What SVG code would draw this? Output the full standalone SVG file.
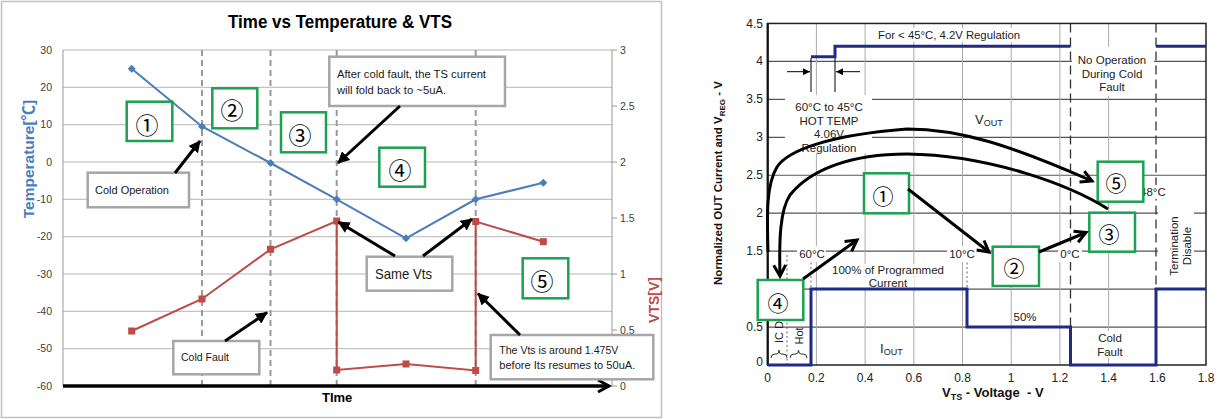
<svg xmlns="http://www.w3.org/2000/svg" width="1230" height="419" viewBox="0 0 1230 419">
<defs>
<style>
.t{font-family:"Liberation Sans",Arial,sans-serif}
.num{font-family:"Noto Sans CJK JP","DejaVu Sans",sans-serif;text-anchor:middle;fill:#000}
.gbox{fill:#fff;stroke:#1ba150;stroke-width:2.5}
.cbox{fill:#fff;stroke:#a6a6a6;stroke-width:2.5}
.lg{stroke:#b5b5b5;stroke-width:1}
.vd{stroke:#9a9a9a;stroke-width:2;stroke-dasharray:6,4}
.tl{font-family:"Liberation Sans",Arial,sans-serif;font-size:10.5px;fill:#404040}
.ct{font-family:"Liberation Sans",Arial,sans-serif;font-size:11.5px;fill:#1a1a1a}
.arrL{stroke:#000;stroke-width:3;fill:none;marker-end:url(#fa)}
.arrR{stroke:#000;stroke-width:3;fill:none;marker-end:url(#ch)}
.rh{stroke:#555;stroke-width:1.2}
.rv{stroke:#aaa;stroke-width:1}
.rt{font-family:"Liberation Sans",Arial,sans-serif;font-size:11.5px;fill:#222}
.rk{font-family:"Liberation Sans",Arial,sans-serif;font-size:12px;fill:#222}
.wb{fill:#fff}
.blue{fill:none;stroke:#4a7ebb;stroke-width:2}
.red{fill:none;stroke:#be4b48;stroke-width:2}
.navy{fill:none;stroke:#1f2b85;stroke-width:3}
.dot{stroke:#666;stroke-width:1;stroke-dasharray:2,2.5}
.dash{stroke:#333;stroke-width:1.3;stroke-dasharray:9,5}
</style>
<marker id="fa" viewBox="0 0 12 12" refX="11" refY="6" markerWidth="12" markerHeight="12" markerUnits="userSpaceOnUse" orient="auto"><path d="M0,0 L12,6 L0,12 z" fill="#000"/></marker>
<marker id="ch" viewBox="0 0 20 16" refX="14" refY="8" markerWidth="20" markerHeight="16" markerUnits="userSpaceOnUse" orient="auto"><path d="M3,2 L14,8 L3,14" fill="none" stroke="#000" stroke-width="3"/></marker>
<marker id="sm" viewBox="0 0 8 8" refX="8" refY="4" markerWidth="8" markerHeight="7" markerUnits="userSpaceOnUse" orient="auto"><path d="M0,0 L8,4 L0,8 z" fill="#000"/></marker>
<path id="dia" d="M0,-4 L4,0 L0,4 L-4,0 Z" fill="#4a7ebb"/>
<rect id="sq" x="-3.5" y="-3.5" width="7" height="7" fill="#be4b48"/>
</defs>

<!-- ================= LEFT CHART ================= -->
<g id="left-chart">
<rect x="1.5" y="1.5" width="660" height="416" fill="#fff" stroke="#c0c0c0" stroke-width="1.5"/>
<text class="t" x="340" y="28" text-anchor="middle" font-size="18" font-weight="bold" textLength="224" lengthAdjust="spacingAndGlyphs">Time vs Temperature &amp; VTS</text>
<g id="left-grid">
<line class="lg" x1="63" y1="50" x2="612" y2="50"/>
<line class="lg" x1="63" y1="87.3" x2="612" y2="87.3"/>
<line class="lg" x1="63" y1="124.7" x2="612" y2="124.7"/>
<line class="lg" x1="63" y1="162" x2="612" y2="162"/>
<line class="lg" x1="63" y1="199.3" x2="612" y2="199.3"/>
<line class="lg" x1="63" y1="236.7" x2="612" y2="236.7"/>
<line class="lg" x1="63" y1="274" x2="612" y2="274"/>
<line class="lg" x1="63" y1="311.3" x2="612" y2="311.3"/>
<line class="lg" x1="63" y1="348.7" x2="612" y2="348.7"/>
<line x1="63" y1="50" x2="63" y2="386" stroke="#999" stroke-width="1"/>
<line x1="612" y1="50" x2="612" y2="386" stroke="#999" stroke-width="1"/>
<path d="M612,50h5M612,106h5M612,162h5M612,218h5M612,274h5M612,330h5M612,386h5" stroke="#999" stroke-width="1"/>
<line class="vd" x1="202" y1="50" x2="202" y2="386"/>
<line class="vd" x1="270.5" y1="50" x2="270.5" y2="386"/>
<line class="vd" x1="336.7" y1="50" x2="336.7" y2="386"/>
<line class="vd" x1="475.7" y1="50" x2="475.7" y2="386"/>
</g>
<g id="left-ticks">
<g class="tl" text-anchor="end">
<text x="52" y="53.5">30</text><text x="52" y="90.8">20</text><text x="52" y="128.2">10</text><text x="52" y="165.5">0</text>
<text x="52" y="202.8">-10</text><text x="52" y="240.2">-20</text><text x="52" y="277.5">-30</text><text x="52" y="314.8">-40</text>
<text x="52" y="352.2">-50</text><text x="52" y="389.5">-60</text>
</g>
<g class="tl">
<text x="620" y="53.5">3</text><text x="620" y="109.5">2.5</text><text x="620" y="165.5">2</text><text x="620" y="221.5">1.5</text>
<text x="620" y="277.5">1</text><text x="620" y="333.5">0.5</text><text x="620" y="389.5">0</text>
</g>
</g>
<g id="series">
<polyline class="blue" points="131.7,68.7 202,126.5 270.5,163 336.7,199.3 406,238.3 475.7,199.3 543.3,182.7"/>
<polyline class="red" points="131.7,331 202,299 270.5,249.3 336.7,221 336.7,370 406,364 475.7,370.5 475.7,221.5 543.3,241.7"/>
<use href="#dia" x="131.7" y="68.7"/><use href="#dia" x="202" y="126.5"/><use href="#dia" x="270.5" y="163"/><use href="#dia" x="336.7" y="199.3"/>
<use href="#dia" x="406" y="238.3"/><use href="#dia" x="475.7" y="199.3"/><use href="#dia" x="543.3" y="182.7"/>
<use href="#sq" x="131.7" y="331"/><use href="#sq" x="202" y="299"/><use href="#sq" x="270.5" y="249.3"/><use href="#sq" x="336.7" y="221"/>
<use href="#sq" x="336.7" y="370"/><use href="#sq" x="406" y="364"/><use href="#sq" x="475.7" y="370.5"/><use href="#sq" x="475.7" y="221.5"/><use href="#sq" x="543.3" y="241.7"/>
</g>
<line x1="63" y1="386" x2="609" y2="386" stroke="#000" stroke-width="3.5" marker-end="url(#ch)"/>
<text class="t" transform="translate(34,159) rotate(-90)" text-anchor="middle" font-size="15.5" font-weight="bold" fill="#4a7ebb">Temperature[<tspan font-family="Noto Sans CJK SC,sans-serif">℃</tspan>]</text>
<text class="t" transform="translate(659,300) rotate(-90)" text-anchor="middle" font-size="14" font-weight="bold" fill="#be4b48">VTS[V]</text>
<text class="t" x="322" y="402" font-size="13" font-weight="bold" fill="#000">TIme</text>
</g>

<g id="L1"><rect class="gbox" x="126.7" y="101.7" width="45.6" height="39.3"/><text class="num" x="147" y="133.5" font-size="23">①</text></g>
<g id="L2"><rect class="gbox" x="212.3" y="88.3" width="45" height="40"/><text class="num" x="232" y="118.5" font-size="23">②</text></g>
<g id="L3"><rect class="gbox" x="281" y="112.3" width="45" height="40"/><text class="num" x="300" y="143.5" font-size="23">③</text></g>
<g id="L4"><rect class="gbox" x="379.3" y="147.7" width="45.7" height="39"/><text class="num" x="400" y="178.5" font-size="23">④</text></g>
<g id="L5"><rect class="gbox" x="522.7" y="258.3" width="45.6" height="40"/><text class="num" x="542" y="289.5" font-size="23">⑤</text></g>

<g id="C-cold-operation"><rect class="cbox" x="87.7" y="172.7" width="101.3" height="34.6"/><text class="ct" x="95" y="194" textLength="74" lengthAdjust="spacingAndGlyphs">Cold Operation</text></g>
<g id="C-cold-fault"><rect class="cbox" x="173.3" y="341" width="86" height="33.3"/><text class="ct" x="181" y="361" textLength="48" lengthAdjust="spacingAndGlyphs">Cold Fault</text></g>
<g id="C-after-fault"><rect class="cbox" x="329.3" y="56.7" width="175.7" height="49.3"/><text class="ct" x="337" y="77.5" textLength="149" lengthAdjust="spacingAndGlyphs">After cold fault, the TS current</text><text class="ct" x="337" y="93.5" textLength="109" lengthAdjust="spacingAndGlyphs">will fold back to ~5uA.</text></g>
<g id="C-same-vts"><rect class="cbox" x="366.7" y="256.7" width="85.6" height="34"/><text class="t" x="375" y="279" font-size="15" fill="#1a1a1a" textLength="57" lengthAdjust="spacingAndGlyphs">Same Vts</text></g>
<g id="C-vts-around"><rect class="cbox" x="490.7" y="335" width="162.6" height="44.3"/><text class="ct" x="499.3" y="353.5" textLength="119" lengthAdjust="spacingAndGlyphs">The Vts is around 1.475V</text><text class="ct" x="499.3" y="368.5" textLength="136" lengthAdjust="spacingAndGlyphs">before Its resumes to 50uA.</text></g>

<!-- ================= RIGHT CHART ================= -->
<g id="right-chart">
<g id="right-grid">
<path class="rh" d="M767.7,327.05H1206M767.7,289.1H1206M767.7,251.15H1206M767.7,213.2H1206M767.7,175.25H1206M767.7,137.3H1206M767.7,99.35H1206M767.7,61.4H1206"/>
<path class="rv" d="M816.4,23.5V365M865.1,23.5V365M913.8,23.5V365M962.5,23.5V365M1011.2,23.5V365M1059.9,23.5V365M1108.6,23.5V365"/>
<rect x="767.7" y="23.45" width="438.3" height="341.55" fill="none" stroke="#222" stroke-width="1.5"/>
<line x1="767.7" y1="23" x2="767.7" y2="365.5" stroke="#111" stroke-width="2.2"/>
</g>
<line class="dash" x1="1070.5" y1="23.5" x2="1070.5" y2="365"/>
<line class="dash" x1="1156" y1="23.5" x2="1156" y2="365"/>
<line class="dot" x1="787" y1="255" x2="787" y2="365"/>
<line class="dot" x1="811" y1="258" x2="811" y2="289"/>
<line class="dot" x1="967" y1="258" x2="967" y2="289"/>
<g id="label-bg">
<rect class="wb" x="875" y="28" width="147" height="14"/>
<rect class="wb" x="785" y="95" width="87" height="58"/>
<rect class="wb" x="1072" y="47" width="82" height="49"/>
<rect class="wb" x="797" y="246" width="29" height="16"/>
<rect class="wb" x="947" y="246" width="31" height="16"/>
<rect class="wb" x="1058" y="246" width="24" height="16"/>
<rect class="wb" x="1139" y="185" width="27" height="14"/>
<rect class="wb" x="832" y="264" width="112" height="12"/>
<rect class="wb" x="862" y="277" width="52" height="11"/>
<rect class="wb" x="1090" y="331" width="40" height="27"/>
<rect class="wb" x="1158" y="212" width="36" height="68"/>
</g>
<polyline class="navy" points="811,56.8 835,56.8 835,46.2 1070.5,46.2"/>
<polyline class="navy" points="1156,46.2 1206,46.2"/>
<polyline class="navy" points="767.7,365 811,365 811,289.1 967,289.1 967,327 1070.5,327 1070.5,365 1156,365 1156,289.1 1206,289.1"/>
<path d="M811,58V92M835,58V92" stroke="#000" stroke-width="1"/>
<line x1="787" y1="71.7" x2="810" y2="71.7" stroke="#000" stroke-width="1" marker-end="url(#sm)"/>
<line x1="860" y1="71.7" x2="836" y2="71.7" stroke="#000" stroke-width="1" marker-end="url(#sm)"/>
<g id="right-ticks" class="rk">
<g text-anchor="end">
<text x="763" y="27.5">4.5</text><text x="763" y="65.4">4</text><text x="763" y="103.4">3.5</text><text x="763" y="141.3">3</text>
<text x="763" y="179.3">2.5</text><text x="763" y="217.2">2</text><text x="763" y="255.2">1.5</text><text x="763" y="293.1">1</text>
<text x="763" y="331.1">0.5</text><text x="763" y="366">0</text>
</g>
<g text-anchor="middle">
<text x="767.7" y="382">0</text><text x="816.4" y="382">0.2</text><text x="865.1" y="382">0.4</text><text x="913.8" y="382">0.6</text>
<text x="962.5" y="382">0.8</text><text x="1011.2" y="382">1</text><text x="1059.9" y="382">1.2</text><text x="1108.6" y="382">1.4</text>
<text x="1157.3" y="382">1.6</text><text x="1206" y="382">1.8</text>
</g>
</g>
<g id="right-labels" class="rt">
<text x="878" y="39" textLength="142" lengthAdjust="spacingAndGlyphs">For &lt; 45°C, 4.2V Regulation</text>
<g text-anchor="middle">
<text x="829" y="111">60°C to 45°C</text>
<text x="829" y="124.5">HOT TEMP</text>
<text x="829" y="138">4.06V</text>
<text x="829" y="151.5">Regulation</text>
<text x="1112" y="64">No Operation</text>
<text x="1112" y="77.5">During Cold</text>
<text x="1112" y="91">Fault</text>
<text x="812" y="258">60°C</text>
<text x="962" y="258">10°C</text>
<text x="1070" y="258">0°C</text>
<text x="888" y="274">100% of Programmed</text>
<text x="888" y="286.5">Current</text>
<text x="1025" y="321">50%</text>
<text x="1110" y="342">Cold</text>
<text x="1110" y="355.5">Fault</text>
<text transform="translate(1178,246) rotate(-90)">Termination</text>
<text transform="translate(1191,246) rotate(-90)">Disable</text>
</g>
<text x="1140" y="196">48°C</text>
<text x="975" y="124" font-size="13">V<tspan font-size="9" dy="2">OUT</tspan></text>
<text x="880" y="353" font-size="13">I<tspan font-size="9" dy="2">OUT</tspan></text>
<text transform="translate(783,332) rotate(-90)" text-anchor="middle" font-size="11">IC D</text>
<text transform="translate(803,336) rotate(-90)" text-anchor="middle" font-size="11">Hot</text>
<path d="M771,358 Q771,354 775,354 L777,354 Q779,354 779,350 Q779,354 781,354 L783,354 Q787,354 787,358" fill="none" stroke="#333" stroke-width="1"/>
<path d="M790,358 Q790,354 794,354 L796,354 Q798.5,354 798.5,350 Q798.5,354 801,354 L803,354 Q807,354 807,358" fill="none" stroke="#333" stroke-width="1"/>
</g>
<text class="t" transform="translate(722,183) rotate(-90)" text-anchor="middle" font-size="11.5" font-weight="bold" fill="#111">Normalized OUT Current and V<tspan font-size="8" dy="3">REG</tspan><tspan dy="-3"> - V</tspan></text>
<text class="t" x="942" y="397" font-size="13" font-weight="bold" fill="#111" xml:space="preserve">V<tspan font-size="9" dy="3">TS</tspan><tspan dy="-3"> - Voltage  - V</tspan></text>
</g>

<g id="R1"><rect class="gbox" x="864" y="173.3" width="45" height="40"/><text class="num" x="883" y="204" font-size="21">①</text></g>
<g id="R2"><rect class="gbox" x="992.7" y="246.7" width="46.3" height="39.3"/><text class="num" x="1014" y="276" font-size="21">②</text></g>
<g id="R3"><rect class="gbox" x="1089.3" y="212.7" width="45.7" height="39"/><text class="num" x="1109" y="242" font-size="21">③</text></g>
<g id="R4"><rect class="gbox" x="757.7" y="280" width="45.6" height="40"/><text class="num" x="778" y="311" font-size="21">④</text></g>
<g id="R5"><rect class="gbox" x="1097.7" y="161.7" width="45.6" height="40"/><text class="num" x="1116" y="191" font-size="21">⑤</text></g>

<g id="connectors">
<line class="arrL" x1="175" y1="173" x2="200" y2="141"/>
<line class="arrL" x1="225" y1="341" x2="267" y2="312.5"/>
<line class="arrL" x1="400" y1="106" x2="338" y2="163"/>
<line class="arrL" x1="395" y1="256" x2="338.5" y2="222"/>
<line class="arrL" x1="423" y1="256" x2="472" y2="219"/>
<line class="arrL" x1="520" y1="335" x2="478" y2="293.5"/>
<line class="arrR" x1="803" y1="279" x2="857" y2="240"/>
<line class="arrR" x1="908" y1="189" x2="989" y2="252"/>
<line class="arrR" x1="1039" y1="252" x2="1086" y2="232.5"/>
<path class="arrR" d="M768,252 C767,215 766,185 777,167 C788,150 830,135 907,129 C960,129 1010,145 1092,181"/>
<path class="arrR" d="M1108,209 C1070,185 990,155 907,154 C850,154 810,170 790,195 C780,210 779,240 780,276"/>
</g>
</svg>
